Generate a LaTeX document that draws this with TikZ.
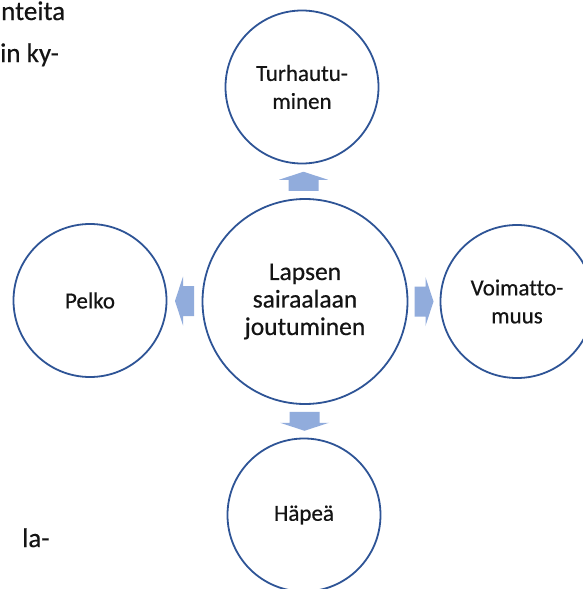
\documentclass[tikz,border=0pt]{standalone}
\usepackage{fontspec}
\setmainfont[Ligatures=NoCommon, FakeBold=0.5]{Carlito}
\usetikzlibrary{calc}
\definecolor{ringblue}{RGB}{46,84,150}
\definecolor{arrowblue}{RGB}{145,172,220}
\definecolor{txt}{RGB}{20,20,20}
\tikzset{
  ring/.style={circle, draw=ringblue, line width=1.8pt, fill=white, inner sep=0pt, align=center, text=txt},
  small/.style={ring, minimum size=153pt, font=\fontsize{23}{28}\selectfont},
  big/.style={ring, minimum size=205pt, font=\fontsize{25.5}{27.5}\selectfont},
  margintext/.style={anchor=base west, inner sep=0pt, text=txt, font=\fontsize{27}{30}\selectfont},
  blockarrow/.style={fill=arrowblue, draw=none}
}
\newcommand{\blockarr}[2]{%
  \begin{scope}[shift={(#1)}, rotate=#2]
    \fill[blockarrow] (-9.5pt,-15pt) -- (1.5pt,-15pt) -- (1.5pt,-24.5pt) -- (9.5pt,0pt)
      -- (1.5pt,24.5pt) -- (1.5pt,15pt) -- (-9.5pt,15pt) -- cycle;
  \end{scope}}
\begin{document}
\begin{tikzpicture}[x=1pt, y=-1pt]
\path[use as bounding box, clip] (0,0) rectangle (583,589);
\fill[white] (0,0) rectangle (583,589);
% margin text fragments
\node[margintext] (m1) at (1,20) {nteita};
\node[margintext] (m2) at (0,62) {in ky-};
\node[margintext] (m3) at (22,547) {la-};
% circles
\node[big] (c) at (305,301.5) {Lapsen\\sairaalaan\\joutuminen};
\node[small] (t) at (302,87) {Turhautu-\\minen};
\node[small] (l) at (90,300.5) {Pelko};
\node[small] (r) at (517,301.5) {Voimatto-\\muus};
\node[small] (b) at (304,515) {Häpeä};
% block arrows between the centre and each circle
\coordinate (at) at ($(c.north)!0.5!(t.south)$);
\coordinate (al) at ($(c.west)!0.5!(l.east)$);
\coordinate (ar) at ($(c.east)!0.5!(r.west)$);
\coordinate (ab) at ($(c.south)!0.5!(b.north)$);
\blockarr{at}{90}
\blockarr{al}{180}
\blockarr{ar}{0}
\blockarr{ab}{-90}
\end{tikzpicture}
\end{document}
